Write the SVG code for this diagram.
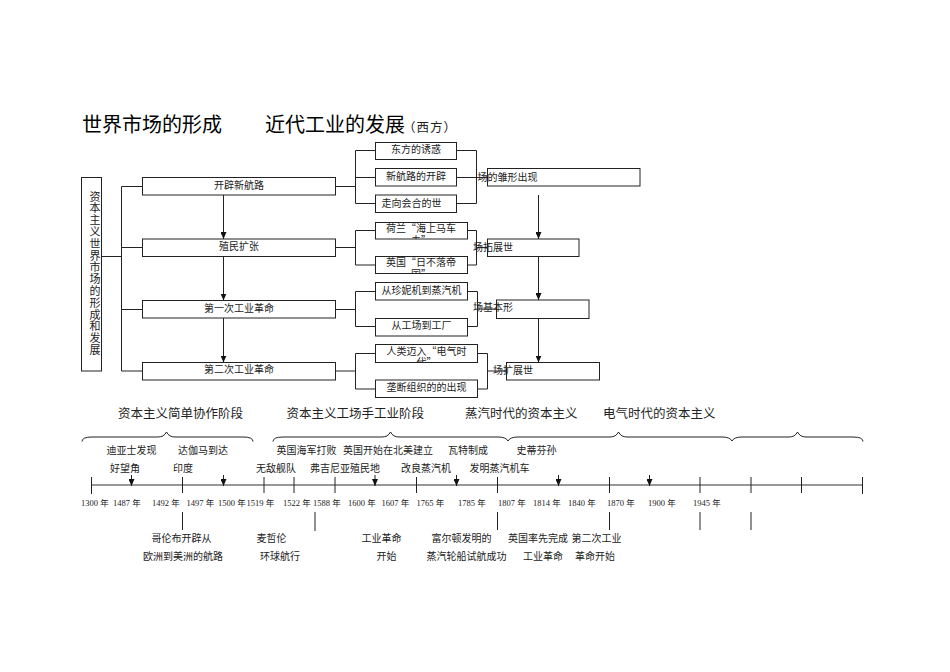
<svg xmlns="http://www.w3.org/2000/svg" width="950" height="672" viewBox="0 0 950 672">
<style>
.ln{stroke:#222;stroke-width:1;fill:none}
.bx{fill:#fff;stroke:#222;stroke-width:1}
.t{font-family:"Noto Sans CJK SC",sans-serif;font-size:10px;fill:#222}
.c{text-anchor:middle}
.yr{font-family:"Liberation Serif","Noto Sans CJK SC",serif;font-size:8.5px;fill:#222}
.ttl{font-family:"Noto Sans CJK SC",sans-serif;font-size:20px;fill:#000}
.ax{stroke:#333;stroke-width:1.2;fill:none}
</style>
<defs>
<marker id="ah" markerWidth="7" markerHeight="6" refX="7" refY="3" orient="auto" markerUnits="userSpaceOnUse"><path d="M0,0 L7,3 L0,6 z" fill="#111"/></marker>
<clipPath id="c1"><rect x="375.5" y="222.5" width="92" height="16.5"/></clipPath>
<clipPath id="c2"><rect x="375.5" y="256.5" width="92" height="17"/></clipPath>
<clipPath id="c3"><rect x="375.5" y="344.5" width="102" height="18"/></clipPath>
</defs>

<g id="title">
<text class="ttl" x="82" y="132">世界市场的形成</text>
<text class="ttl" x="265" y="132">近代工业的发展</text>
<text class="t" x="403" y="132" style="font-size:12.5px;letter-spacing:1px">（西方）</text>
</g>

<g id="connectors">
<path class="ln" d="M101.5 256.5H121.5M121.5 186.5V371M121.5 186.5H142.5M121.5 247.5H142.5M121.5 309.5H142.5M121.5 371H142.5"/>
<path class="ln" d="M223.5 195V239" marker-end="url(#ah)"/>
<path class="ln" d="M223.5 256.5V300.5" marker-end="url(#ah)"/>
<path class="ln" d="M223.5 318V362.5" marker-end="url(#ah)"/>
<path class="ln" d="M335.5 186.5H355.5M375.5 150.5H355.5V203.5H375.5M355.5 177.5H375.5M456.5 150.5H476.5V203.5H456.5M456.5 177.5H487.5"/>
<path class="ln" d="M335.5 247.5H355.5M375.5 230.5H355.5V265H375.5M467.5 230.5H476.5V265H467.5M476.5 247.5H487.5"/>
<path class="ln" d="M335.5 309.5H355.5M375.5 291.5H355.5V326.5H375.5M467.5 291.5H477.5V326.5H467.5M477.5 309H496.5"/>
<path class="ln" d="M335.5 371H355.5M375.5 353.5H355.5V389H375.5M477.5 353.5H487.5V389H477.5M487.5 371H506.5"/>
<path class="ln" d="M538.5 195V239" marker-end="url(#ah)"/>
<path class="ln" d="M538.5 256.5V300" marker-end="url(#ah)"/>
<path class="ln" d="M538.5 318.5V362.5" marker-end="url(#ah)"/>
</g>

<g id="root">
<rect class="bx" x="81.5" y="177.5" width="20" height="193.5"/>
<text class="t" x="95" y="191" writing-mode="vertical-rl" style="font-size:11px;letter-spacing:0.8px">资本主义世界市场的形成和发展</text>
</g>

<g id="n1"><rect class="bx" x="142.5" y="177.5" width="193" height="17.5"/><text class="t c" x="239" y="188.5">开辟新航路</text></g>
<g id="n2"><rect class="bx" x="142.5" y="239" width="193" height="17.5"/><text class="t c" x="239" y="250">殖民扩张</text></g>
<g id="n3"><rect class="bx" x="142.5" y="300.5" width="193" height="17.5"/><text class="t c" x="239" y="312">第一次工业革命</text></g>
<g id="n4"><rect class="bx" x="142.5" y="362.5" width="193" height="17.5"/><text class="t c" x="239" y="373">第二次工业革命</text></g>

<g id="s1a"><rect class="bx" x="375.5" y="142.5" width="81" height="17"/><text class="t c" x="416" y="153">东方的诱惑</text></g>
<g id="s1b"><rect class="bx" x="375.5" y="168.5" width="81" height="17.5"/><text class="t c" x="416" y="179.5">新航路的开辟</text></g>
<g id="s1c"><rect class="bx" x="375.5" y="195" width="81" height="17.5"/><text class="t" x="381.5" y="206.5">走向会合的世</text></g>

<g id="s2a"><rect class="bx" x="375.5" y="222.5" width="92" height="16.5"/><g clip-path="url(#c1)"><text class="t c"><tspan x="421" y="232">荷兰“海上马车</tspan><tspan x="421" y="243.5">夫”</tspan></text></g></g>
<g id="s2b"><rect class="bx" x="375.5" y="256.5" width="92" height="17"/><g clip-path="url(#c2)"><text class="t c"><tspan x="421" y="266">英国“日不落帝</tspan><tspan x="421" y="277.5">国”</tspan></text></g></g>

<g id="s3a"><rect class="bx" x="375.5" y="282.5" width="92" height="17.5"/><text class="t c" x="421.5" y="293.5">从珍妮机到蒸汽机</text></g>
<g id="s3b"><rect class="bx" x="375.5" y="318.5" width="92" height="17.5"/><text class="t c" x="421.5" y="329">从工场到工厂</text></g>

<g id="s4a"><rect class="bx" x="375.5" y="344.5" width="102" height="18"/><g clip-path="url(#c3)"><text class="t c"><tspan x="426.5" y="354.5">人类迈入“电气时</tspan><tspan x="426.5" y="366">代”</tspan></text></g></g>
<g id="s4b"><rect class="bx" x="375.5" y="380" width="102" height="17.5"/><text class="t c" x="426.5" y="391">垄断组织的的出现</text></g>

<g id="r1"><rect class="bx" x="487.5" y="168.5" width="152.5" height="17.5"/><text class="t" x="477.5" y="181">场的雏形出现</text></g>
<g id="r2"><rect class="bx" x="487.5" y="239" width="91.5" height="17.5"/><text class="t" x="473" y="251">场拓展世</text></g>
<g id="r3"><rect class="bx" x="496.5" y="300" width="92.5" height="18.5"/><text class="t" x="473" y="311">场基本形</text></g>
<g id="r4"><rect class="bx" x="506.5" y="362.5" width="93" height="17.5"/><text class="t" x="493" y="374">场扩展世</text></g>

<g id="stages" class="t" style="font-size:12.5px">
<text x="118" y="418">资本主义简单协作阶段</text>
<text x="286.5" y="418">资本主义工场手工业阶段</text>
<text x="465" y="418">蒸汽时代的资本主义</text>
<text x="603" y="418">电气时代的资本主义</text>
</g>

<g id="braces" class="ln">
<path d="M82 441.5Q82 437 92 437L158 437Q164 437 166.5 432Q169 437 175 437L243 437Q253 437 253 441.5"/>
<path d="M273 441.5Q273 437 283 437L382 437Q388 437 390.5 432Q393 437 399 437L498 437Q506 437 508 441"/>
<path d="M508 441Q510 437 518 437L610 437Q616 437 618.5 432Q621 437 627 437L722 437Q730 437 732 441"/>
<path d="M732 441Q734 437 742 437L789 437Q795 437 797.5 432Q800 437 806 437L853 437Q863 437 863 441.5"/>
</g>

<g id="timeline">
<path class="ax" d="M91.5 485H863"/>
<path class="ln" d="M91.5 477V494M182.5 477V493M264 477V493M294 477V493M335 477V493M416.5 477V493M497.5 477V493M609.5 477V493M700 477V493M751 477V493M801.5 477V493M862.5 477V494"/>
<path class="ln" d="M131.5 475V486" marker-end="url(#ah)"/>
<path class="ln" d="M223.5 475V486" marker-end="url(#ah)"/>
<path class="ln" d="M375 475V486" marker-end="url(#ah)"/>
<path class="ln" d="M456.5 475V486" marker-end="url(#ah)"/>
<path class="ln" d="M558.5 475V486" marker-end="url(#ah)"/>
<path class="ln" d="M649.5 475V486" marker-end="url(#ah)"/>
<path class="ln" d="M182.5 512V530M315 512V531M497.5 512V530M609.5 512V530M700 512V530M751 512V530"/>
</g>

<g id="years" class="yr">
<text x="81" y="506">1300 年</text>
<text x="113" y="506">1487 年</text>
<text x="152" y="506">1492 年</text>
<text x="186.5" y="506">1497 年</text>
<text x="218" y="506">1500 年</text>
<text x="246.5" y="506">1519 年</text>
<text x="283" y="506">1522 年</text>
<text x="313" y="506">1588 年</text>
<text x="348" y="506">1600 年</text>
<text x="381.5" y="506">1607 年</text>
<text x="416.5" y="506">1765 年</text>
<text x="458" y="506">1785 年</text>
<text x="498" y="506">1807 年</text>
<text x="533" y="506">1814 年</text>
<text x="568" y="506">1840 年</text>
<text x="607" y="506">1870 年</text>
<text x="648" y="506">1900 年</text>
<text x="693" y="506">1945 年</text>
</g>

<g id="events" class="t">
<text x="106.5" y="454">迪亚士发现</text>
<text x="178" y="454">达伽马到达</text>
<text x="276.5" y="454">英国海军打败</text>
<text x="343" y="454">英国开始在北美建立</text>
<text x="448" y="454">瓦特制成</text>
<text x="516.5" y="454">史蒂芬孙</text>
<text x="110" y="472">好望角</text>
<text x="173" y="472">印度</text>
<text x="256" y="472">无敌舰队</text>
<text x="310" y="472">弗吉尼亚殖民地</text>
<text x="401" y="472">改良蒸汽机</text>
<text x="469.5" y="472">发明蒸汽机车</text>
<text x="151.5" y="542">哥伦布开辟从</text>
<text x="256.5" y="542">麦哲伦</text>
<text x="361.5" y="542">工业革命</text>
<text x="431.5" y="542">富尔顿发明的</text>
<text x="508" y="542">英国率先完成</text>
<text x="571.5" y="542">第二次工业</text>
<text x="143" y="560">欧洲到美洲的航路</text>
<text x="260" y="560">环球航行</text>
<text x="376.5" y="560">开始</text>
<text x="426.5" y="560">蒸汽轮船试航成功</text>
<text x="523" y="560">工业革命</text>
<text x="575" y="560">革命开始</text>
</g>
</svg>
